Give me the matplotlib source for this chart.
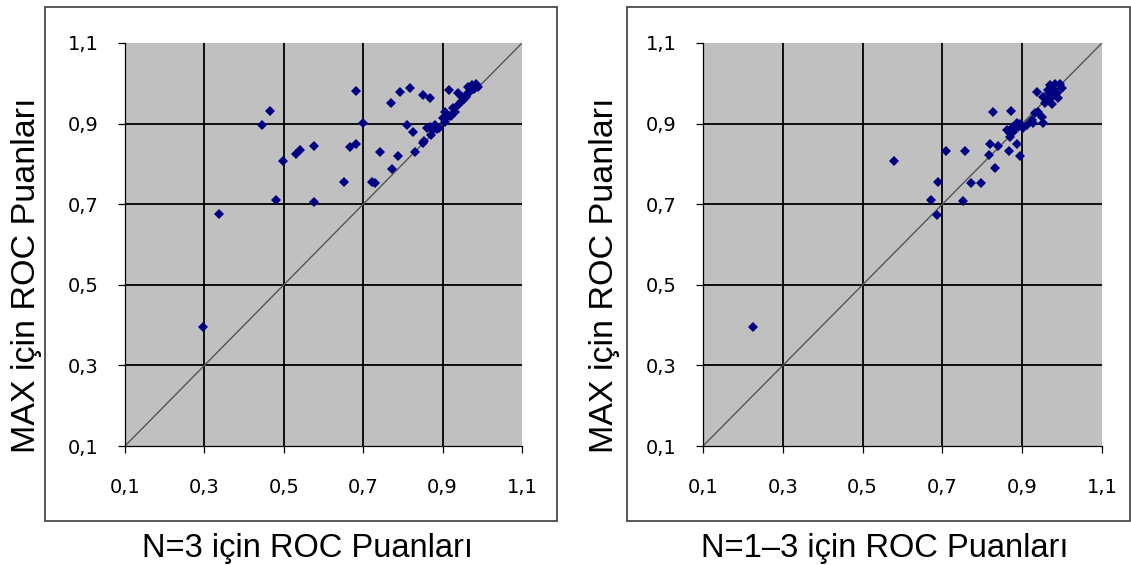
import matplotlib
matplotlib.use("Agg")
import matplotlib.pyplot as plt
from matplotlib.patches import Rectangle

# ROC scores: N=3 (x) versus MAX (y)
n3_x = [0.297, 0.336, 0.446, 0.465, 0.481, 0.497, 0.531, 0.541, 0.576, 0.577,
        0.651, 0.668, 0.683, 0.682, 0.699, 0.721, 0.730, 0.742, 0.770, 0.772,
        0.788, 0.793, 0.811, 0.817, 0.826, 0.830, 0.851, 0.851, 0.853, 0.860,
        0.868, 0.868, 0.870, 0.875, 0.881, 0.885, 0.890, 0.900, 0.906, 0.905,
        0.910, 0.915, 0.917, 0.920, 0.927, 0.930, 0.939, 0.940, 0.948, 0.950,
        0.955, 0.960, 0.964, 0.965, 0.970, 0.975, 0.980, 0.985, 0.990]
n3_y = [0.395, 0.675, 0.896, 0.931, 0.711, 0.807, 0.824, 0.834, 0.845, 0.706,
        0.756, 0.842, 0.850, 0.982, 0.901, 0.756, 0.753, 0.830, 0.951, 0.787,
        0.820, 0.978, 0.897, 0.989, 0.880, 0.830, 0.971, 0.851, 0.858, 0.888,
        0.964, 0.892, 0.872, 0.885, 0.897, 0.887, 0.890, 0.915, 0.929, 0.905,
        0.922, 0.918, 0.983, 0.920, 0.938, 0.930, 0.976, 0.945, 0.967, 0.955,
        0.960, 0.965, 0.990, 0.975, 0.980, 0.995, 0.985, 0.998, 0.990]

# ROC scores: N=1-3 (x) versus MAX (y)
n13_x = [0.225, 0.579, 0.671, 0.686, 0.690, 0.709, 0.752, 0.756, 0.771, 0.796,
         0.818, 0.820, 0.828, 0.832, 0.840, 0.861, 0.866, 0.869, 0.871, 0.878,
         0.887, 0.890, 0.895, 0.895, 0.869, 0.878, 0.886, 0.903, 0.911, 0.924,
         0.928, 0.932, 0.936, 0.940, 0.949, 0.953, 0.953, 0.958, 0.961, 0.965,
         0.970, 0.974, 0.975, 0.982, 0.986, 0.990, 0.995, 0.999, 0.978, 0.968]
n13_y = [0.395, 0.808, 0.711, 0.673, 0.756, 0.831, 0.707, 0.831, 0.752, 0.752,
         0.822, 0.850, 0.928, 0.789, 0.844, 0.883, 0.831, 0.867, 0.932, 0.879,
         0.850, 0.891, 0.819, 0.899, 0.876, 0.892, 0.901, 0.888, 0.897, 0.909,
         0.901, 0.926, 0.979, 0.930, 0.917, 0.901, 0.967, 0.952, 0.959, 0.983,
         0.996, 0.967, 0.948, 0.998, 0.975, 0.963, 0.998, 0.988, 0.985, 0.975]

ticks = [0.1, 0.3, 0.5, 0.7, 0.9, 1.1]
tick_labels = ["0,1", "0,3", "0,5", "0,7", "0,9", "1,1"]
x_titles = ["N=3 için ROC Puanları", "N=1\u20133 için ROC Puanları"]
y_title = "MAX için ROC Puanları"

W, H = 1131, 565
fig = plt.figure(figsize=(W / 100, H / 100), dpi=100)
fig.patch.set_facecolor("white")


def px_box(x0, y0, x1, y1):
    """Convert a pixel box (top-left origin) to figure fractions."""
    return [x0 / W, 1 - y1 / H, (x1 - x0) / W, (y1 - y0) / H]


panels = [
    dict(x=n3_x, y=n3_y, frame=(45, 7, 557, 521), axes=(125, 43, 522, 446),
         xlab=(308, 548), ylab=(27, 275), title=x_titles[0]),
    dict(x=n13_x, y=n13_y, frame=(627, 7, 1130, 521), axes=(703, 43, 1102, 446),
         xlab=(885, 548), ylab=(605, 275), title=x_titles[1]),
]

for p in panels:
    fx0, fy0, fx1, fy1 = p["frame"]
    b = px_box(fx0, fy0, fx1, fy1)
    fig.patches.append(Rectangle((b[0], b[1]), b[2], b[3], transform=fig.transFigure,
                                 fill=False, edgecolor="#4a4a4a", linewidth=1.3))

    ax = fig.add_axes(px_box(*p["axes"]))
    ax.set_facecolor("#C0C0C0")
    ax.set_xlim(0.1, 1.1)
    ax.set_ylim(0.1, 1.1)
    ax.set_xticks(ticks)
    ax.set_yticks(ticks)
    ax.set_xticklabels(tick_labels)
    ax.set_yticklabels(tick_labels)
    for t in ticks[1:-1]:
        ax.axvline(t, color="black", linewidth=1.3, zorder=1)
        ax.axhline(t, color="black", linewidth=1.3, zorder=1)
    ax.plot([0.1, 1.1], [0.1, 1.1], color="#555555", linewidth=1.0, zorder=2)
    ax.plot(p["x"], p["y"], linestyle="none", marker="D", markersize=5.2,
            markeredgewidth=0, color="#000080", zorder=3)
    for s in ("top", "right"):
        ax.spines[s].set_visible(False)
    for s in ("left", "bottom"):
        ax.spines[s].set_color("black")
        ax.spines[s].set_linewidth(0.9)
    ax.tick_params(axis="both", direction="out", length=5, width=0.9, color="black",
                   labelsize=14, labelcolor="black")
    ax.tick_params(axis="x", pad=18)
    ax.tick_params(axis="y", pad=14)

    fig.text(p["xlab"][0] / W, 1 - p["xlab"][1] / H, p["title"],
             ha="center", va="center", fontsize=23.5, family="Liberation Sans")
    fig.text(p["ylab"][0] / W, 1 - p["ylab"][1] / H, y_title, rotation=90,
             ha="center", va="center", fontsize=24.5, family="Liberation Sans")

fig.savefig("out.png", dpi=100, facecolor="white")
